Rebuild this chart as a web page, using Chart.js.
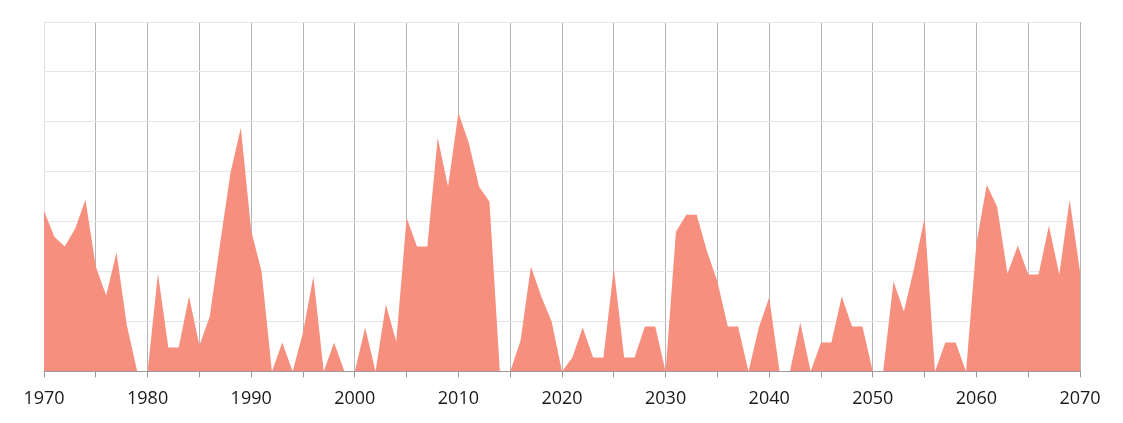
<!DOCTYPE html>
<html>
<head>
<meta charset="utf-8">
<script src="https://cdn.jsdelivr.net/npm/chart.js@4/dist/chart.umd.min.js"></script>
<style>
  html, body { margin: 0; padding: 0; background: #fff; }
  #wrap { width: 1123px; height: 423px; }
</style>
</head>
<body>
<div id="wrap"><canvas id="grafico"></canvas></div>
<script>
// anos 1970 .. 2070
const anoInicial = 1970;
const anoFinal = 2070;

// valores (uma linha de grade = 5)
const valores = [
  16.1, 13.5, 12.5, 14.3, 17.2, 10.5, 7.6, 11.9, 4.6, 0,      // 1970-1979
  0, 9.8, 2.4, 2.4, 7.5, 2.6, 5.5, 12.8, 19.9, 24.4,           // 1980-1989
  14.1, 10.0, 0, 2.9, 0, 3.9, 9.5, 0, 2.9, 0,                  // 1990-1999
  0, 4.4, 0, 6.7, 3.0, 15.4, 12.5, 12.5, 23.4, 18.5,           // 2000-2009
  25.9, 22.9, 18.5, 17.0, 0, 0, 3.1, 10.5, 7.5, 5.0,           // 2010-2019
  0, 1.4, 4.4, 1.4, 1.4, 10.3, 1.4, 1.4, 4.5, 4.5,             // 2020-2029
  0, 14.0, 15.7, 15.7, 12.0, 9.0, 4.5, 4.5, 0, 4.4,            // 2030-2039
  7.4, 0, 0, 4.9, 0, 2.9, 2.9, 7.5, 4.5, 4.5,                  // 2040-2049
  0, 0, 9.0, 6.0, 10.4, 15.4, 0, 2.9, 2.9, 0,                  // 2050-2059
  12.8, 18.7, 16.5, 9.8, 12.6, 9.7, 9.7, 14.6, 9.7, 17.2,      // 2060-2069
  10.0                                                         // 2070
];

const anos = valores.map((_, i) => anoInicial + i);
const pontos = anos.map((ano, i) => ({ x: ano, y: valores[i] }));

const ctx = document.getElementById('grafico').getContext('2d');
new Chart(ctx, {
    type: 'line',
    data: {
        datasets: [{
            data: pontos,
            fill: 'origin',
            backgroundColor: '#f78f7f',
            borderColor: '#f78f7f',
            borderWidth: 0,
            pointRadius: 0,
            tension: 0
        }]
    },
    options: {
        responsive: true,
        maintainAspectRatio: false,
        animation: false,
        layout: {
            padding: { left: 44, right: 43, top: 22, bottom: 2 }
        },
        plugins: {
            legend: { display: false },
            tooltip: { enabled: false }
        },
        scales: {
            x: {
                type: 'linear',
                min: anoInicial,
                max: anoFinal,
                border: { color: '#999999' },
                grid: {
                    // a primeira linha (1970) é mais clara
                    color: c => (c.tick && c.tick.value === anoInicial) ? '#dedede' : '#b5b5b5',
                    tickLength: 6,
                    tickColor: '#999999'
                },
                ticks: {
                    stepSize: 5,
                    autoSkip: false,
                    maxRotation: 0,
                    padding: 11,
                    color: '#1a1a1a',
                    font: { family: 'Open Sans', size: 18 },
                    callback: function(valor) {
                        return valor % 10 === 0 ? String(valor) : '';
                    }
                }
            },
            y: {
                min: 0,
                max: 35,
                border: { display: false },
                grid: {
                    color: '#e6e6e6',
                    drawTicks: false
                },
                ticks: {
                    stepSize: 5,
                    display: false
                }
            }
        }
    }
});
</script>
</body>
</html>
